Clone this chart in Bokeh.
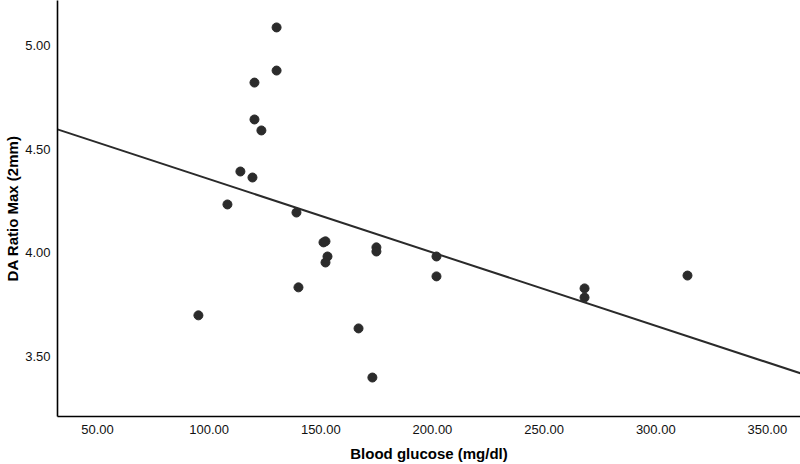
from bokeh.plotting import figure
from bokeh.models import Range1d, FixedTicker, NumeralTickFormatter
from bokeh.embed import file_html
from bokeh.resources import INLINE

# Data
glucose = [130.2, 130.2, 120.3, 120.3, 123.4, 114.0, 119.4, 108.2, 139.1,
           151.2, 152.1, 153.0, 152.1, 174.9, 174.9, 201.8, 201.8, 140.0,
           95.2, 166.9, 173.1, 268.1, 268.1, 314.2]
da_ratio = [5.087, 4.879, 4.821, 4.643, 4.590, 4.392, 4.363, 4.233, 4.194,
            4.050, 4.055, 3.982, 3.953, 4.026, 4.006, 3.982, 3.886, 3.833,
            3.698, 3.635, 3.398, 3.828, 3.784, 3.890]

# Fit line
fit_intercept = 4.709
fit_slope = -0.003538

x_ticks = [50, 100, 150, 200, 250, 300, 350]
y_ticks = [3.5, 4.0, 4.5, 5.0]

x_min, x_max = 32.1, 364.8
y_min, y_max = 3.21, 5.217

p = figure(width=800, height=464, output_backend="svg", toolbar_location=None,
           x_range=Range1d(x_min, x_max), y_range=Range1d(y_min, y_max),
           min_border_left=57, min_border_right=0, min_border_top=0,
           min_border_bottom=48)
p.outline_line_color = None
p.xgrid.visible = False
p.ygrid.visible = False
p.background_fill_color = "white"
p.border_fill_color = "white"

fit_x = [x_min, x_max]
fit_y = [fit_intercept + fit_slope * v for v in fit_x]
p.line(fit_x, fit_y, line_color="#2a2a2a", line_width=2)

p.scatter(glucose, da_ratio, size=9, fill_color="#2b2b2b", line_color="#2b2b2b")

for ax in (p.xaxis[0], p.yaxis[0]):
    ax.axis_line_color = "black"
    ax.axis_line_width = 1.6
    ax.major_tick_line_color = None
    ax.minor_tick_line_color = None
    ax.major_label_text_font = "Liberation Sans"
    ax.major_label_text_font_size = "13px"
    ax.major_label_text_color = "#111111"
    ax.axis_label_text_font = "Liberation Sans"
    ax.axis_label_text_font_size = "15px"
    ax.axis_label_text_font_style = "bold"
    ax.axis_label_text_color = "black"

p.xaxis.ticker = FixedTicker(ticks=x_ticks)
p.yaxis.ticker = FixedTicker(ticks=y_ticks)
p.xaxis.formatter = NumeralTickFormatter(format="0.00")
p.yaxis.formatter = NumeralTickFormatter(format="0.00")
p.xaxis.axis_label = "Blood glucose (mg/dl)"
p.yaxis.axis_label = "DA Ratio Max (2mm)"
p.xaxis.major_label_standoff = 2
p.yaxis.major_label_standoff = 1
p.xaxis.axis_label_standoff = 8
p.yaxis.axis_label_standoff = 1

open("out.html", "w").write(file_html(p, INLINE))
